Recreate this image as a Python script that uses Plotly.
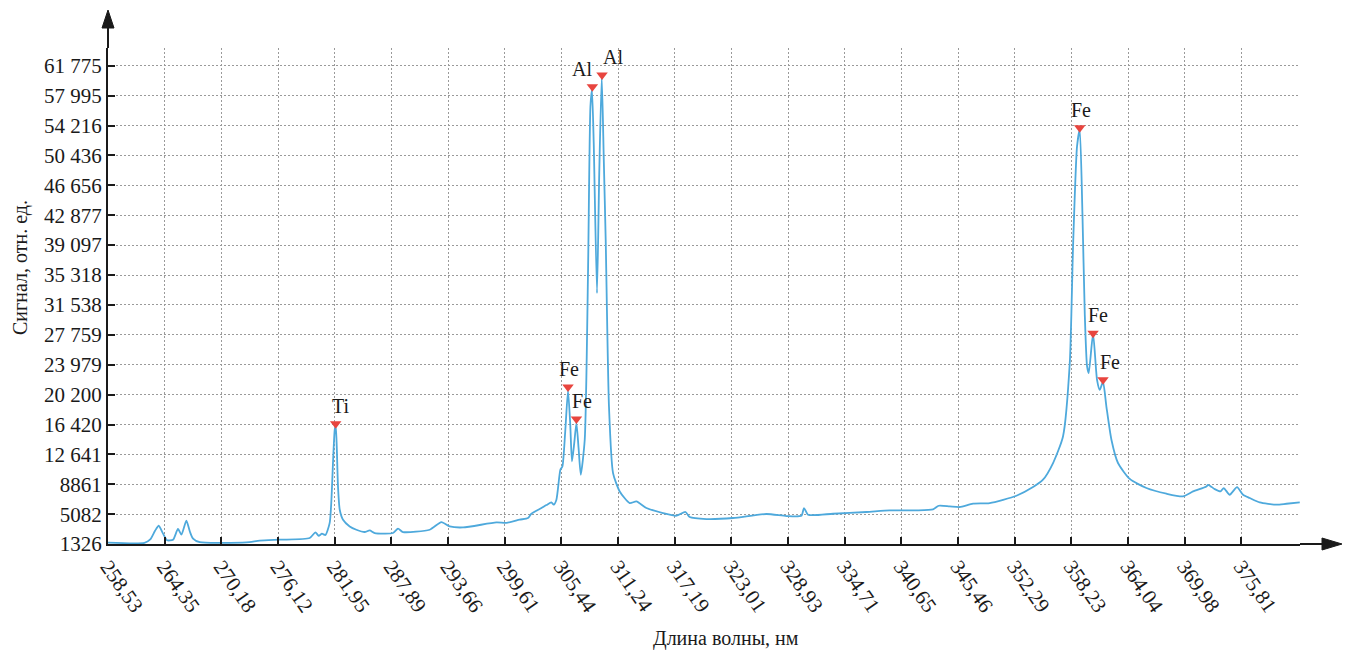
import plotly.graph_objects as go

# ---------------- data ----------------
wavelength_nm = [
    258.53, 262.30, 262.90, 263.40, 263.78, 264.20, 264.64, 265.26, 265.77, 266.13,
    266.64, 267.00, 267.33, 268.02, 272.85, 274.23, 276.30, 279.40, 279.99, 280.33,
    280.67, 281.03, 281.47, 281.65, 281.81, 281.99, 282.09, 282.20, 282.33, 282.51,
    282.85, 283.54, 284.23, 285.09, 285.61, 286.13, 288.02, 288.54, 289.06, 291.82,
    293.03, 293.89, 295.27, 298.72, 299.76, 301.13, 301.99, 302.34, 303.38, 303.90,
    304.41, 304.65, 304.93, 305.34, 305.55, 305.84, 306.13, 306.36, 306.54, 306.77,
    307.00, 307.22, 307.45, 307.86, 308.20, 308.45, 308.61, 308.79, 309.13, 309.36,
    309.62, 309.83, 310.03, 310.37, 310.79, 311.48, 312.51, 313.21, 314.24, 315.96,
    317.35, 318.28, 318.72, 320.45, 323.21, 326.66, 328.73, 330.28, 330.55, 330.97,
    333.55, 337.01, 339.42, 342.18, 343.90, 344.49, 345.63, 346.66, 348.04, 349.77,
    352.53, 354.25, 355.28, 356.32, 357.35, 358.05, 358.39, 358.80, 359.08, 359.36,
    359.60, 359.84, 360.01, 360.46, 360.87, 361.15, 361.49, 361.84, 362.36, 363.04,
    364.26, 365.98, 368.05, 369.77, 370.81, 372.19, 372.36, 373.05, 373.64, 373.98,
    374.60, 375.36, 375.98, 376.67, 377.71, 379.44, 380.47, 381.85,
]
signal = [
    1500, 1480, 1900, 3000, 3630, 2700, 1800, 1870, 3220, 2500,
    4270, 2900, 2000, 1550, 1530, 1740, 1870, 2080, 2790, 2370,
    2625, 2460, 4000, 6920, 11560, 15760, 16300, 13650, 8600, 5660,
    4390, 3550, 3130, 2840, 3040, 2715, 2715, 3260, 2840, 3130,
    4100, 3550, 3420, 4055, 4000, 4400, 4610, 5150, 5870, 6250,
    6580, 6290, 6920, 10710, 11130, 15500, 20700, 16500, 11760, 14000,
    16600, 13500, 10080, 14500, 35550, 56600, 58700, 52000, 33030, 48000,
    60400, 50000, 39760, 18700, 10290, 7970, 6500, 6700, 5870, 5240,
    4900, 5370, 4730, 4480, 4610, 5115, 4860, 4900, 5870, 5030,
    5150, 5370, 5570, 5570, 5700, 6160, 6080, 6000, 6415, 6500,
    7425, 8520, 9450, 11560, 14920, 24180, 38910, 51540, 53700, 43130,
    30500, 23760, 22920, 27900, 22080, 20810, 21800, 18700, 14500, 11560,
    9550, 8400, 7680, 7340, 7970, 8600, 8810, 8260, 7970, 8400,
    7550, 8520, 7550, 7140, 6580, 6290, 6415, 6580,
]

peak_nm = [282.09, 306.13, 307.00, 308.65, 309.65, 359.08, 360.46, 361.49]
peak_signal = [16520, 21155, 17114, 59120, 60600, 53940, 27975, 22077]
peak_element = ["Ti", "Fe", "Fe", "Al", "Al", "Fe", "Fe", "Fe"]

x_tick_labels = [
    "258,53", "264,35", "270,18", "276,12", "281,95", "287,89", "293,66",
    "299,61", "305,44", "311,24", "317,19", "323,01", "328,93", "334,71",
    "340,65", "345,46", "352,29", "358,23", "364,04", "369,98", "375,81",
]
y_tick_values = [1326, 5082, 8861, 12641, 16420, 20200, 23979, 27759, 31538,
                 35318, 39097, 42877, 46656, 50436, 54216, 57995, 61775]
y_tick_labels = ["1326", "5082", "8861", "12 641", "16 420", "20 200", "23 979",
                 "27 759", "31 538", "35 318", "39 097", "42 877", "46 656",
                 "50 436", "54 216", "57 995", "61 775"]

# ---------------- styling ----------------
FONT = "Liberation Serif"
LINE_BLUE = "#4EA9DC"
MARK_RED = "#E8453F"
INK = "#1a1a1a"
GRID = "#9a9a9a"

W, H = 1346, 650
L, R, T, B = 108, 46, 48, 106
pw, ph = W - L - R, H - T - B

x_first = float(x_tick_labels[0].replace(",", "."))
x_last = float(x_tick_labels[-1].replace(",", "."))
x_step = (x_last - x_first) / (len(x_tick_labels) - 1)
x_tick_values = [x_first + i * x_step for i in range(len(x_tick_labels))]
tick_px = 56.67                       # pixel spacing between x ticks
x_end = x_first + x_step * pw / tick_px

# label offsets (pixels) relative to marker centre
label_dx = [5, 1, 6, -10, 11, 1, 5, 7]
label_dy = 18

fig = go.Figure()
fig.add_trace(go.Scatter(
    x=wavelength_nm, y=signal, mode="lines",
    line=dict(color=LINE_BLUE, width=1.8, shape="spline", smoothing=0.6),
    hoverinfo="skip",
))
fig.add_trace(go.Scatter(
    x=peak_nm, y=peak_signal, mode="markers",
    marker=dict(symbol="triangle-down", size=10, color=MARK_RED),
    hoverinfo="skip",
))


def px_x(p):
    return (p - L) / pw


def px_y(p):
    return (H - B - p) / ph


shapes = [
    dict(type="line", xref="paper", yref="paper", x0=0, x1=0, y0=1, y1=px_y(24),
         line=dict(color=INK, width=2)),
    dict(type="path", xref="paper", yref="paper",
         path=f"M {px_x(102)},{px_y(28)} L {px_x(108)},{px_y(10)} L {px_x(114)},{px_y(28)} Z",
         fillcolor=INK, line=dict(color=INK, width=1)),
    dict(type="line", xref="paper", yref="paper", x0=1, x1=px_x(1326), y0=0, y1=0,
         line=dict(color=INK, width=2)),
    dict(type="path", xref="paper", yref="paper",
         path=f"M {px_x(1322)},{px_y(538)} L {px_x(1342)},{px_y(544)} L {px_x(1322)},{px_y(550)} Z",
         fillcolor=INK, line=dict(color=INK, width=1)),
]

annotations = [
    dict(text="Сигнал, отн. ед.", xref="paper", yref="paper",
         x=px_x(20), y=px_y(268), textangle=-90, showarrow=False,
         font=dict(family=FONT, size=20, color=INK), xanchor="center", yanchor="middle"),
    dict(text="Длина волны, нм", xref="paper", yref="paper",
         x=px_x(726), y=px_y(638), showarrow=False,
         font=dict(family=FONT, size=20, color=INK), xanchor="center", yanchor="middle"),
]
for xv, yv, name, dx in zip(peak_nm, peak_signal, peak_element, label_dx):
    annotations.append(dict(
        text=name, x=xv, y=yv, xref="x", yref="y", showarrow=False,
        xshift=dx, yshift=label_dy, xanchor="center", yanchor="middle",
        font=dict(family=FONT, size=20, color=INK),
    ))

fig.update_layout(
    width=W, height=H,
    margin=dict(l=L, r=R, t=T, b=B, pad=0),
    plot_bgcolor="white", paper_bgcolor="white",
    showlegend=False,
    font=dict(family=FONT, size=21, color=INK),
    shapes=shapes, annotations=annotations,
    xaxis=dict(
        range=[x_first, x_end],
        tickmode="array", tickvals=x_tick_values, ticktext=x_tick_labels,
        tickangle=55, ticks="inside", ticklen=7, tickwidth=1.5, tickcolor=INK,
        showgrid=True, gridcolor=GRID, griddash="2px,2px", gridwidth=1.2,
        showline=True, linecolor=INK, linewidth=2, zeroline=False,
        tickfont=dict(family=FONT, size=21, color=INK),
    ),
    yaxis=dict(
        range=[1326, 64010],
        tickmode="array", tickvals=y_tick_values, ticktext=y_tick_labels,
        ticks="inside", ticklen=7, tickwidth=1.5, tickcolor=INK,
        showgrid=True, gridcolor=GRID, griddash="2px,2px", gridwidth=1.2,
        showline=True, linecolor=INK, linewidth=2, zeroline=False,
        tickfont=dict(family=FONT, size=21, color=INK),
    ),
)

fig.write_html("out.html", config={"displayModeBar": False},
               post_script="document.body.style.margin='0';")
